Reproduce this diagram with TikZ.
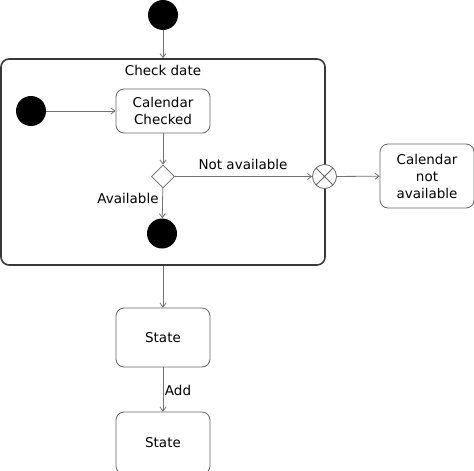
\documentclass[tikz,border=0pt]{standalone}
\usepackage{fontspec}
\setmainfont{DejaVu Sans}
\usetikzlibrary{arrows.meta,shapes.geometric}
\begin{document}
\begin{tikzpicture}[x=1pt,y=-1pt, font=\fontsize{13.5}{17}\selectfont,
 line/.style={draw=black!55, line width=0.8pt, -{Straight Barb[length=4pt,width=6pt]}},
 statebox/.style={draw=black!60, rounded corners=8pt, line width=0.8pt, minimum width=94pt, align=center, inner sep=0pt},
 initst/.style={circle, fill=black, minimum size=30pt, inner sep=0pt},
 lbl/.style={inner sep=1pt},
 ]
\useasboundingbox (0,0) rectangle (474,471);
\node[draw=black!78, line width=1.6pt, rounded corners=8pt, minimum width=324pt, minimum height=206pt, inner sep=0pt] (comp) at (163,162) {};
\node[lbl] (title) at (163,70) {Check date};
\node[initst] (init) at (163,15) {};
\node[initst] (init2) at (31,111) {};
\node[statebox, minimum height=44pt] (cc) at (163,111) {Calendar\\Checked};
\node[diamond, draw=black!60, line width=0.8pt, fill=white, inner sep=0pt, minimum width=23pt, minimum height=23pt] (dia) at (163,176.5) {};
\node[initst] (fin) at (162,233.5) {};
\node[circle, draw=black!60, fill=white, line width=0.8pt, minimum size=24pt, inner sep=0pt,
  path picture={\draw[black!60, line width=0.8pt] (path picture bounding box.north west) -- (path picture bounding box.south east) (path picture bounding box.north east) -- (path picture bounding box.south west);}] (exit) at (324.5,176.5) {};
\node[statebox, minimum height=64pt] (cna) at (427,176) {Calendar\\not\\available};
\node[statebox, minimum height=59pt] (s1) at (163,337.5) {State};
\node[statebox, minimum height=62pt] (s2) at (163,443) {State};
\draw[line] (init) -- (comp.north);
\draw[line] (init2) -- (cc);
\draw[line] (cc) -- (dia);
\draw[line] (dia) -- (fin);
\draw[line] (dia.east) -- (exit.west);
\draw[line] (exit) -- (cna);
\draw[line] (comp.south) -- (s1);
\draw[line] (s1) -- (s2);
\node[lbl] (na) at (243,164) {Not available};
\node[lbl] (av) at (128,198) {Available};
\node[lbl] (add) at (178,390) {Add};
\end{tikzpicture}
\end{document}
